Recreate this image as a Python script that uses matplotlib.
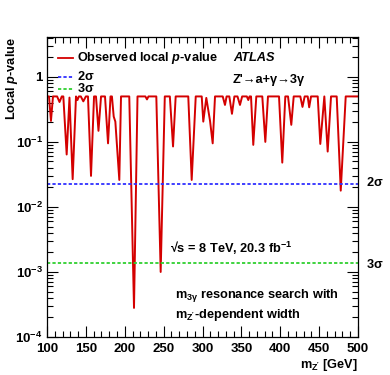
import matplotlib
matplotlib.use("Agg")
import matplotlib.pyplot as plt
from matplotlib.ticker import FixedLocator, LogLocator, NullFormatter, MultipleLocator

plt.rcParams['font.family'] = ['Liberation Sans', 'DejaVu Sans']
plt.rcParams['font.weight'] = 'bold'
plt.rcParams['mathtext.fontset'] = 'custom'
plt.rcParams['mathtext.rm'] = 'Liberation Sans:bold'
plt.rcParams['mathtext.bf'] = 'Liberation Sans:bold'
plt.rcParams['mathtext.it'] = 'Liberation Sans:bold:italic'
plt.rcParams['mathtext.default'] = 'rm'

# ---- data ----
mass = [100, 102.6, 105.1, 107.7, 113, 116.1, 119, 121, 125.3, 128.9, 133.0, 137.3,
        139.2, 141, 143.5, 146.7, 150, 152.7, 156.6, 160.5, 163, 166.2, 169.5, 174.6,
        178.5, 181.7, 183.5, 185.8, 187.9, 193.0, 195.2, 205.8, 211.9, 216.4, 226.5,
        228.6, 230.5, 240.6, 246.2, 251.5, 258, 262.1, 265.5, 281.7, 286.1, 291.3,
        299, 301.0, 304.9, 306.7, 309.7, 313.1, 316.1, 326, 328.9, 331, 334.5, 337.9,
        341, 345, 348.2, 351, 357, 358.9, 360.5, 362.4, 365.3, 369.2, 376.9, 380.8,
        384.2, 398.4, 402.6, 406.5, 410, 414.2, 417.3, 425.8, 428.6, 431.4, 435.3,
        437.2, 439.6, 448.2, 451.5, 456.7, 461.0, 465.3, 472.6, 477.8, 484.2, 500]
pvalue = [0.5, 0.5, 0.21, 0.5, 0.5, 0.41, 0.5, 0.5, 0.064, 0.48, 0.0267, 0.5,
          0.44, 0.5, 0.5, 0.42, 0.5, 0.5, 0.030, 0.5, 0.5, 0.148, 0.5, 0.5,
          0.095, 0.5, 0.5, 0.245, 0.205, 0.026, 0.5, 0.5, 2.8e-4, 0.5, 0.5,
          0.45, 0.5, 0.5, 1.0e-3, 0.5, 0.5, 0.085, 0.5, 0.5, 0.026, 0.5,
          0.5, 0.205, 0.475, 0.35, 0.21, 0.095, 0.5, 0.5, 0.37, 0.5, 0.5, 0.27,
          0.5, 0.5, 0.37, 0.5, 0.5, 0.44, 0.5, 0.5, 0.09, 0.5, 0.5, 0.10,
          0.5, 0.5, 0.048, 0.5, 0.5, 0.183, 0.5, 0.5, 0.345, 0.5, 0.5,
          0.34, 0.5, 0.5, 0.093, 0.5, 0.071, 0.5, 0.5, 0.0178, 0.5, 0.5]
p_2sigma = 0.02275
p_3sigma = 0.00135
xticks = [100, 150, 200, 250, 300, 350, 400, 450, 500]
yticks = [1e-4, 1e-3, 1e-2, 1e-1, 1]
ytick_labels = [r'$10^{-4}$', r'$10^{-3}$', r'$10^{-2}$', r'$10^{-1}$', '1']

W, H = 390, 375
fig = plt.figure(figsize=(W / 100, H / 100), dpi=100)
ax = fig.add_axes([47 / W, 1 - 337 / H, (358 - 47) / W, (337 - 37) / H])

red = '#d40000'
blue = '#3030ff'
green = '#30d030'
dot = (0, (1.8, 1.2))

ax.plot(mass, pvalue, color=red, lw=1.4)
ax.axhline(p_2sigma, color=blue, lw=1.3, ls=dot)
ax.axhline(p_3sigma, color=green, lw=1.3, ls=dot)

ax.set_yscale('log')
ax.set_xlim(100, 500)
ax.set_ylim(1e-4, 4.1)

ax.xaxis.set_major_locator(FixedLocator(xticks))
ax.xaxis.set_minor_locator(MultipleLocator(10))
ax.set_xticklabels([str(t) for t in xticks])
ax.yaxis.set_major_locator(FixedLocator(yticks))
ax.set_yticklabels(ytick_labels)
ax.yaxis.set_minor_locator(LogLocator(base=10, subs=range(2, 10), numticks=20))
ax.yaxis.set_minor_formatter(NullFormatter())

ax.tick_params(which='both', direction='in', top=True, right=True, width=0.8,
               labelsize=9.5, colors='black')
ax.tick_params(which='major', length=8)
ax.tick_params(which='minor', length=4)
ax.tick_params(axis='x', pad=4)
ax.tick_params(axis='y', pad=3)
for s in ax.spines.values():
    s.set_linewidth(0.9)

fs = 9.2
def px(x, y):
    return (x / W, 1 - y / H)

# legend
for (y, c, ls, lab) in [(58, red, '-', r'Observed local $\mathit{p}$-value'),
                        (77, blue, dot, r'2$\sigma$'),
                        (89, green, dot, r'3$\sigma$')]:
    x0, yy = px(58, y)
    x1, _ = px(73, y)
    fig.add_artist(plt.Line2D([x0, x1], [yy, yy], color=c, lw=1.3, ls=ls))
    fig.text(*px(77, y), lab, fontsize=fs, va='center', ha='left')

fig.text(*px(233, 58), 'ATLAS', fontsize=fs, style='italic', va='center', ha='left')
fig.text(*px(233, 80), "Z'→a+γ→3γ", fontsize=fs, va='center', ha='left')
fig.text(*px(170, 248), '√s = 8 TeV, 20.3 fb$^{-1}$', fontsize=fs,
         va='center', ha='left')
fig.text(*px(175, 296), r'm$_{3\gamma}$ resonance search with', fontsize=fs,
         va='center', ha='left')
fig.text(*px(175, 315), r"m$_{Z'}$-dependent width", fontsize=fs,
         va='center', ha='left')

fig.text(*px(366, 183), r'2$\sigma$', fontsize=fs, va='center', ha='left')
fig.text(*px(366, 264), r'3$\sigma$', fontsize=fs, va='center', ha='left')

fig.text(*px(358, 365), r"m$_{Z'}$ [GeV]", fontsize=fs, va='center', ha='right')
fig.text(*px(12, 37), r'Local $\mathit{p}$-value', fontsize=fs, rotation=90,
         va='top', ha='center')

fig.savefig('out.png', dpi=100)
